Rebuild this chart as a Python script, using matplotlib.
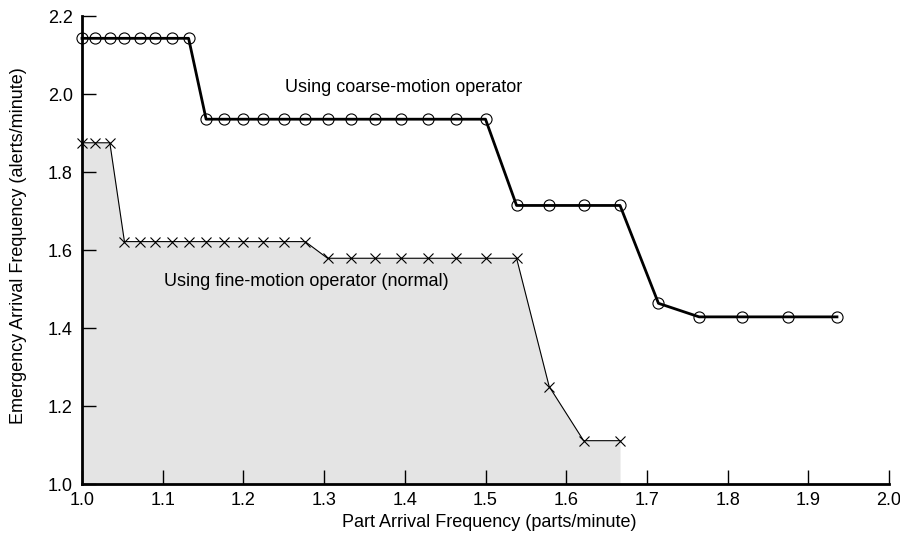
import matplotlib
matplotlib.use('Agg')
import matplotlib.pyplot as plt

plt.rcParams['font.family'] = ['Liberation Sans', 'DejaVu Sans']

# coarse-motion operator
coarse_x = [1.0, 1.0167, 1.0345, 1.0526, 1.0714, 1.0909, 1.1111, 1.1321,
            1.1538, 1.1765, 1.2, 1.2245, 1.25, 1.2766, 1.3043, 1.3333,
            1.3636, 1.3953, 1.4286, 1.4634, 1.5,
            1.5385, 1.5789, 1.6216, 1.6667,
            1.7143, 1.7647, 1.8182, 1.875, 1.9355]
coarse_y = [2.1429] * 8 + [1.9355] * 13 + [1.7143] * 4 + [1.4634] + [1.4286] * 4

# fine-motion operator (normal)
fine_x = [1.0, 1.0167, 1.0345,
          1.0526, 1.0714, 1.0909, 1.1111, 1.1321, 1.1538, 1.1765, 1.2,
          1.2245, 1.25, 1.2766,
          1.3043, 1.3333, 1.3636, 1.3953, 1.4286, 1.4634, 1.5, 1.5385,
          1.5789, 1.6216, 1.6667]
fine_y = [1.875] * 3 + [1.6216] * 11 + [1.5789] * 8 + [1.25, 1.1111, 1.1111]

x_ticks = [1.0, 1.1, 1.2, 1.3, 1.4, 1.5, 1.6, 1.7, 1.8, 1.9, 2.0]
y_ticks = [1.0, 1.2, 1.4, 1.6, 1.8, 2.0, 2.2]

fig = plt.figure(figsize=(9, 5.35), dpi=100)
ax = fig.add_axes([0.0911, 0.0953, 0.8967, 0.8747])

ax.fill_between(fine_x, fine_y, 1.0, color='#e4e4e4', linewidth=0, zorder=1)
ax.plot(fine_x, fine_y, color='black', linewidth=0.8, marker='x',
        markersize=7, markeredgewidth=0.8, zorder=3, clip_on=False)
ax.plot(coarse_x, coarse_y, color='black', linewidth=2.0, marker='o',
        markersize=8, markerfacecolor='none', markeredgewidth=0.8,
        zorder=4, clip_on=False)

ax.text(1.399, 2.018, 'Using coarse-motion operator', ha='center', va='center',
        fontsize=13)
ax.text(1.278, 1.52, 'Using fine-motion operator (normal)', ha='center',
        va='center', fontsize=13)

ax.set_xlim(1.0, 2.0)
ax.set_ylim(1.0, 2.2)
ax.set_xticks(x_ticks)
ax.set_yticks(y_ticks)
ax.set_xticklabels([f'{v:.1f}' for v in x_ticks])
ax.set_yticklabels([f'{v:.1f}' for v in y_ticks])
ax.tick_params(direction='in', length=10, width=1, labelsize=13)
ax.tick_params(axis='x', pad=5.5)
ax.tick_params(axis='y', pad=6.5)
ax.spines['top'].set_visible(False)
ax.spines['right'].set_visible(False)
ax.spines['left'].set_linewidth(2)
ax.spines['bottom'].set_linewidth(2)

ax.set_xlabel('Part Arrival Frequency (parts/minute)', fontsize=13)
ax.set_ylabel('Emergency Arrival Frequency (alerts/minute)', fontsize=13)
ax.xaxis.set_label_coords(0.505, -0.064)
ax.yaxis.set_label_coords(-0.068, 0.51)

fig.savefig('out.png', dpi=100)
